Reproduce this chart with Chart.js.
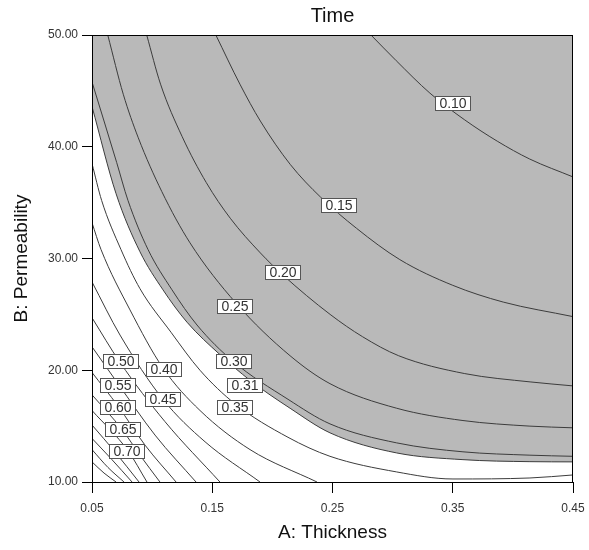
<!DOCTYPE html>
<html>
<head>
<meta charset="utf-8">
<title>Time</title>
<script src="https://cdn.jsdelivr.net/npm/chart.js@4.4.1/dist/chart.umd.min.js"></script>
<style>
  html, body { margin: 0; padding: 0; background: #fff; }
  #wrap { width: 589px; height: 550px; }
</style>
</head>
<body>
<div id="wrap"><canvas id="chart" width="589" height="550"></canvas></div>
<script>
// axis ticks
const xTicks = [0.05, 0.15, 0.25, 0.35, 0.45];
const yTicks = [10, 20, 30, 40, 50];

// contour lines: [A: Thickness, B: Permeability]
const t010 = [[0.282, 50], [0.303, 47.7], [0.331, 44.8], [0.36, 42.4], [0.387, 40.5], [0.414, 38.9], [0.45, 37.3]];
const t015 = [[0.153, 50], [0.173, 45.6], [0.19, 42.3], [0.215, 38.4], [0.24, 35.5], [0.27, 32.7], [0.306, 29.9], [0.35, 27.6], [0.392, 26.1], [0.45, 24.8]];
const t020 = [[0.0955, 50], [0.107, 45.6], [0.125, 40.9], [0.145, 36.8], [0.165, 33.6], [0.19, 30.5], [0.209, 28.5], [0.248, 25.0], [0.275, 23.0], [0.305, 21.3], [0.36, 19.7], [0.415, 18.95], [0.45, 18.6]];
const t025 = [[0.0631, 50], [0.076, 44.7], [0.0885, 40.8], [0.108, 36.0], [0.1315, 31.4], [0.1698, 26.0], [0.2147, 21.3], [0.2479, 18.8], [0.3034, 16.6], [0.3585, 15.5], [0.4142, 15.0], [0.45, 14.85]];
const t030 = [[0.05, 45.8], [0.0705, 38.6], [0.0799, 35.2], [0.0966, 30.8], [0.1165, 27.2], [0.1373, 24.05], [0.1673, 20.8], [0.213, 17.4], [0.2479, 15.2], [0.3034, 13.5], [0.3585, 12.7], [0.4142, 12.4], [0.45, 12.3]];
const t031 = [[0.05, 43.6], [0.07, 35.8], [0.0899, 30.6], [0.109, 27.2], [0.129, 24.3], [0.1564, 21.4], [0.1814, 19.1], [0.2147, 16.6], [0.2479, 14.4], [0.3034, 12.6], [0.3585, 12.0], [0.4142, 11.82], [0.45, 11.8]];
const t035 = [[0.05, 38.5], [0.058, 35.2], [0.0741, 30.8], [0.0899, 27.3], [0.1157, 23.4], [0.1398, 20.0], [0.1689, 17.0], [0.213, 14.0], [0.2479, 12.3], [0.3034, 10.9], [0.3502, 10.27], [0.4142, 10.36], [0.45, 10.63]];
const t040 = [[0.05, 33.2], [0.0575, 30.8], [0.0816, 25.4], [0.109, 20.2], [0.1398, 16.4], [0.1814, 12.9], [0.2371, 10.0]];
const t045 = [[0.05, 27.9], [0.0733, 23.15], [0.109, 17.4], [0.144, 13.6], [0.1897, 10.0]];
const t050 = [[0.05, 24.7], [0.0733, 20.7], [0.1107, 15.4], [0.1564, 10.0]];
const t055 = [[0.05, 22.1], [0.0716, 18.8], [0.1024, 14.2], [0.1365, 10.0]];
const t060 = [[0.05, 19.8], [0.0716, 16.8], [0.0941, 13.3], [0.1199, 10.0]];
const t065 = [[0.05, 17.8], [0.075, 14.7], [0.0899, 12.4], [0.1065, 10.0]];
const t070 = [[0.05, 16.4], [0.0799, 12.8], [0.0957, 10.0]];
const t075 = [[0.05, 15.1], [0.0691, 12.7], [0.0891, 10.0]];
const t080 = [[0.05, 13.9], [0.0666, 12.0], [0.0833, 10.0]];
const t085 = [[0.05, 12.9], [0.0633, 11.3], [0.0766, 10.0]];
const t090 = [[0.05, 11.8], [0.06, 10.8], [0.07, 10.0]];

// contour labels: [text, A, B]
const contourLabels = [
  ['0.10', 0.3502, 43.9], ['0.15', 0.2554, 34.8], ['0.20', 0.2088, 28.8], ['0.25', 0.1693, 25.75],
  ['0.30', 0.1677, 20.8], ['0.31', 0.1772, 18.7], ['0.35', 0.1689, 16.75],
  ['0.40', 0.1095, 20.15], ['0.45', 0.109, 17.4],
  ['0.50', 0.074, 20.8], ['0.55', 0.072, 18.7], ['0.60', 0.072, 16.75], ['0.65', 0.0755, 14.75], ['0.70', 0.0795, 12.8]
];

const contours = [t010, t015, t020, t025, t030, t031, t035, t040, t045, t050, t055, t060, t065, t070, t075, t080, t085, t090];

const FONT = '"Liberation Sans", Arial, sans-serif';

const datasets = contours.map(c => ({
  data: c.map(p => ({ x: p[0], y: p[1] })),
  showLine: true,
  borderColor: '#3c3c3c',
  borderWidth: 1,
  pointRadius: 0,
  cubicInterpolationMode: 'monotone',
  fill: c === t031 ? 'end' : false,
  backgroundColor: '#b9b9b9'
}));

// labels, frame and titles
const decorations = {
  id: 'decorations',
  afterDatasetsDraw(chart) {
    const { ctx, chartArea: a, scales: { x, y } } = chart;
    ctx.save();
    ctx.font = '14px ' + FONT;
    ctx.textAlign = 'center';
    ctx.textBaseline = 'middle';
    contourLabels.forEach(([txt, lx, ly]) => {
      const px = Math.round(x.getPixelForValue(lx));
      const py = Math.round(y.getPixelForValue(ly));
      const w = Math.ceil(ctx.measureText(txt).width) + 8;
      const h = 15;
      const l = Math.round(px - w / 2), t = Math.round(py - h / 2);
      ctx.fillStyle = '#fff';
      ctx.fillRect(l, t, w, h);
      ctx.strokeStyle = '#555';
      ctx.lineWidth = 1;
      ctx.strokeRect(l + 0.5, t + 0.5, w - 1, h - 1);
      ctx.fillStyle = '#333';
      ctx.fillText(txt, px, py + 1);
    });
    ctx.strokeStyle = '#000';
    ctx.strokeRect(Math.round(a.left) + 0.5, Math.round(a.top) + 0.5, Math.round(a.width) - 1, Math.round(a.height));
    ctx.restore();
  },
  afterDraw(chart) {
    const { ctx, chartArea: a } = chart;
    const cx = (a.left + a.right) / 2, cy = (a.top + a.bottom) / 2;
    ctx.save();
    ctx.fillStyle = '#111';
    ctx.textAlign = 'center';
    ctx.textBaseline = 'middle';
    ctx.font = '20px ' + FONT;
    ctx.fillText('Time', cx, 16);
    ctx.font = '19px ' + FONT;
    ctx.fillText('A: Thickness', cx, 533);
    ctx.translate(22, cy);
    ctx.rotate(-Math.PI / 2);
    ctx.fillText('B: Permeability', 0, 0);
    ctx.restore();
  }
};

new Chart(document.getElementById('chart'), {
  type: 'scatter',
  data: { datasets },
  options: {
    responsive: false,
    animation: false,
    layout: { padding: { top: 35, right: 16, left: 0, bottom: 0 } },
    plugins: {
      legend: { display: false },
      tooltip: { enabled: false },
      filler: { drawTime: 'beforeDatasetsDraw' }
    },
    scales: {
      x: {
        type: 'linear',
        min: 0.05,
        max: 0.45,
        afterBuildTicks: s => { s.ticks = xTicks.map(v => ({ value: v })); },
        afterFit: s => { s.height = 68; s.paddingLeft = 0; s.paddingRight = 0; },
        grid: { drawOnChartArea: false, drawTicks: true, tickLength: 11, color: '#000' },
        border: { color: '#000' },
        ticks: { color: '#333', font: { size: 12, family: FONT }, padding: 8, maxRotation: 0, callback: v => v.toFixed(2) }
      },
      y: {
        type: 'linear',
        min: 10,
        max: 50,
        afterBuildTicks: s => { s.ticks = yTicks.map(v => ({ value: v })); },
        afterFit: s => { s.width = 92; },
        grid: { drawOnChartArea: false, drawTicks: true, tickLength: 10, color: '#000' },
        border: { color: '#000' },
        ticks: { color: '#333', font: { size: 12, family: FONT }, padding: 4, callback: v => v.toFixed(2) }
      }
    }
  },
  plugins: [decorations]
});
</script>
</body>
</html>
